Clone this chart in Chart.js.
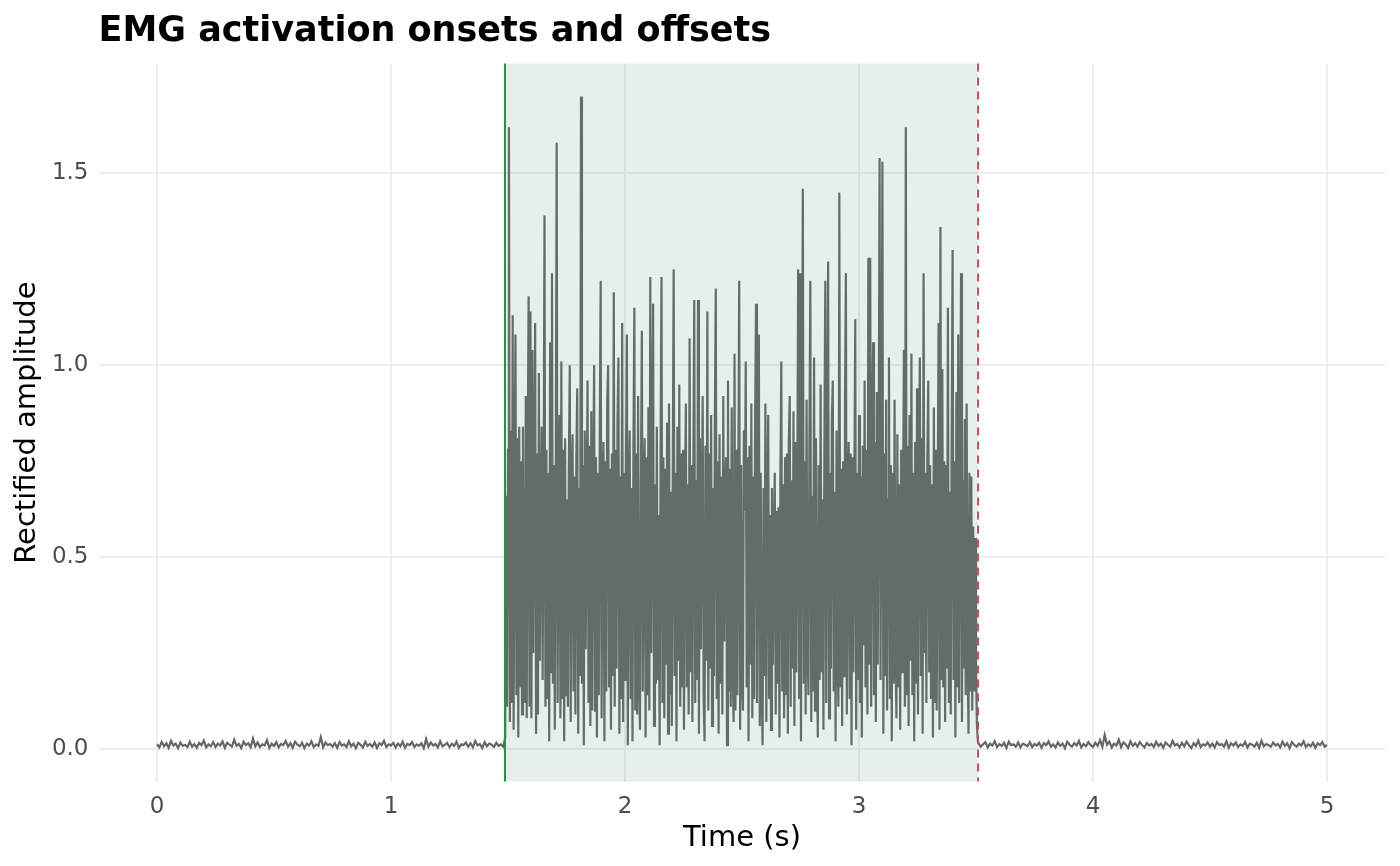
<!DOCTYPE html>
<html>
<head>
<meta charset="utf-8">
<title>EMG activation onsets and offsets</title>
<script src="https://cdn.jsdelivr.net/npm/chart.js@4.4.1/dist/chart.umd.min.js"></script>
<style>
  html, body { margin: 0; padding: 0; background: #ffffff; }
  canvas { display: block; }
</style>
</head>
<body>
<canvas id="emgChart" width="1400" height="866"></canvas>
<script>
// resting signal before the onset, one sample every 10 ms from 0 s
const restBefore = [
  0.012,0.004,0.018,0.007,0.015,0.003,0.021,0.009,0.014,0.002,0.017,0.008,0.011,0.005,0.019,0.006,0.013,0.003,0.016,0.010,0.022,0.004,0.012,0.007,0.018,
  0.005,0.014,0.009,0.020,0.003,0.016,0.011,0.006,0.024,0.008,0.013,0.002,0.019,0.010,0.015,0.004,0.027,0.007,0.017,0.005,0.012,0.009,0.023,0.003,0.014,
  0.008,0.018,0.004,0.013,0.010,0.021,0.006,0.015,0.003,0.019,0.011,0.007,0.016,0.002,0.014,0.009,0.020,0.005,0.012,0.008,0.031,0.004,0.017,0.010,0.013,
  0.006,0.015,0.003,0.018,0.009,0.012,0.005,0.020,0.007,0.014,0.002,0.016,0.011,0.004,0.019,0.008,0.013,0.006,0.017,0.003,0.015,0.010,0.021,0.005,0.012,
  0.009,0.016,0.004,0.014,0.007,0.019,0.003,0.013,0.010,0.018,0.005,0.012,0.008,0.015,0.002,0.026,0.006,0.017,0.009,0.013,0.004,0.020,0.007,0.011,0.016,
  0.005,0.014,0.008,0.019,0.003,0.012,0.010,0.017,0.006,0.015,0.004,0.021,0.009,0.013,0.002,0.018,0.007,0.014,0.011,0.005,0.016,0.008,0.012,0.006
];

// active burst, one sample every 4 ms from 1.488 s (25 samples per 0.1 s row)
const burst = [
  0.03,0.66,0.11,0.78,1.62,0.07,0.83,0.12,1.13,0.05,0.69,1.08,0.14,0.81,0.03,0.84,0.16,0.75,0.09,0.84,0.27,0.12,0.92,0.08,0.76,
  1.18,0.11,1.14,0.08,1.04,0.25,0.72,1.11,0.04,0.77,0.09,0.98,0.23,0.60,0.84,0.18,0.66,1.39,0.11,0.78,0.13,0.72,0.02,1.06,0.20,
  1.24,0.17,0.74,0.05,0.69,1.58,0.12,0.67,0.87,0.08,1.01,0.13,0.78,0.02,0.81,0.14,0.65,0.11,0.73,1.00,0.07,0.69,0.82,0.15,0.71,
  0.09,0.76,0.94,0.04,0.68,0.19,1.70,0.17,0.74,0.01,0.83,0.26,0.62,0.96,0.12,0.79,0.06,0.88,0.10,0.69,1.00,0.10,0.76,0.03,0.72,
  0.14,0.81,1.22,0.08,0.67,0.80,0.02,0.75,0.15,0.91,1.00,0.16,0.73,0.05,0.77,0.19,1.19,0.11,0.78,0.21,0.86,1.02,0.04,0.71,0.13,
  1.11,0.07,0.72,0.18,0.74,1.08,0.01,0.65,0.83,0.13,0.68,0.02,0.79,1.15,0.10,0.77,0.09,0.92,0.21,0.05,0.70,1.09,0.15,0.67,0.81,
  0.03,0.76,0.14,0.89,0.10,1.23,0.25,0.72,1.16,0.06,0.69,0.17,0.84,0.18,0.61,0.01,0.78,1.23,0.12,0.76,0.08,0.73,0.22,0.85,0.04,
  0.90,0.14,0.67,0.06,0.71,1.25,0.19,0.72,0.02,0.84,0.23,0.95,0.11,0.77,0.16,0.78,0.05,0.64,0.90,0.16,0.69,0.09,1.07,0.20,0.74,
  0.07,0.73,1.17,0.12,0.70,0.18,1.17,0.04,0.81,0.26,0.65,0.92,0.13,0.02,0.79,0.23,1.14,0.10,0.77,0.21,0.87,0.06,0.68,0.19,0.86,
  1.20,0.13,0.75,0.04,0.82,0.17,0.71,0.09,0.92,0.28,0.68,0.76,0.01,0.96,0.15,0.73,0.11,0.89,0.24,0.07,1.03,0.10,0.78,0.14,0.67,
  1.22,0.05,0.74,0.19,0.10,0.83,0.62,1.01,0.16,0.76,0.02,0.79,0.22,0.90,0.08,0.71,0.13,0.85,1.16,0.12,0.65,1.08,0.06,0.72,0.17,
  0.01,0.68,0.19,0.90,0.07,0.64,0.87,0.13,0.61,0.05,0.68,0.22,0.55,0.72,0.09,0.62,0.17,0.63,0.03,0.70,1.01,0.15,0.69,0.08,0.76,
  0.14,0.77,0.04,0.80,0.92,0.11,0.70,0.21,0.88,0.06,0.80,0.20,0.63,1.25,0.13,1.24,0.02,0.77,1.46,0.17,0.75,0.09,0.91,0.26,0.14,
  0.78,1.22,0.07,0.66,0.15,1.02,0.10,0.81,0.23,0.03,0.74,0.18,0.95,0.20,0.65,0.05,0.79,1.22,0.12,0.78,1.27,0.08,0.72,0.21,0.86,
  0.96,0.15,0.67,0.02,0.83,0.24,0.11,1.45,0.16,0.73,0.06,0.75,0.19,0.90,1.24,0.09,0.64,0.80,0.13,0.77,0.01,0.76,0.20,0.68,1.12,
  0.05,0.72,0.18,0.87,0.12,0.71,0.03,0.79,0.27,0.96,0.16,0.78,0.09,1.28,0.22,1.28,0.11,0.84,1.06,0.14,0.80,0.07,0.93,0.22,0.75,
  1.54,0.18,0.76,1.53,0.04,0.77,0.19,0.91,0.10,0.65,1.02,0.13,0.74,0.02,0.72,0.17,0.91,0.26,0.08,0.82,0.16,0.69,0.05,0.78,0.20,
  0.63,1.04,0.11,1.62,0.14,0.79,0.06,0.87,0.23,1.03,0.14,0.72,0.02,0.80,0.17,0.94,0.09,0.66,1.02,0.19,0.81,0.04,1.24,0.25,0.72,
  0.12,0.76,0.96,0.20,0.74,0.13,0.69,0.03,0.89,0.12,0.78,0.10,0.62,1.11,0.05,1.36,0.18,0.99,0.16,0.75,0.07,0.74,0.21,1.15,0.12,
  0.67,0.09,0.81,1.30,0.18,0.75,0.03,0.93,0.16,1.08,0.12,0.70,1.24,0.07,0.70,0.21,0.86,0.14,0.90,0.25,0.04,0.72,0.15,0.71,0.10,
  0.58,0.15,0.55,0.21,0.06,0.02
];

// resting signal after the offset, one sample every 10 ms from 3.51 s
const restAfter = [
  0.015,0.006,0.012,0.018,0.004,0.014,0.009,0.020,0.005,0.013,0.008,0.016,0.003,0.019,0.010,0.012,0.006,0.017,0.004,0.014,0.011,0.007,0.018,0.005,0.013,
  0.009,0.016,0.003,0.015,0.010,0.020,0.006,0.012,0.004,0.017,0.008,0.014,0.002,0.019,0.011,0.006,0.015,0.009,0.021,0.004,0.013,0.007,0.018,0.010,0.005,
  0.016,0.008,0.023,0.006,0.036,0.011,0.019,0.004,0.014,0.009,0.024,0.005,0.017,0.012,0.003,0.020,0.008,0.015,0.006,0.018,0.010,0.004,0.016,0.009,0.013,
  0.005,0.019,0.008,0.014,0.003,0.017,0.011,0.006,0.021,0.009,0.013,0.004,0.016,0.007,0.019,0.010,0.002,0.015,0.008,0.022,0.005,0.012,0.009,0.017,0.006,
  0.014,0.004,0.018,0.010,0.013,0.006,0.020,0.003,0.015,0.009,0.017,0.005,0.012,0.008,0.019,0.004,0.014,0.011,0.006,0.016,0.003,0.021,0.007,0.013,0.010,
  0.006,0.017,0.009,0.013,0.004,0.019,0.008,0.015,0.002,0.018,0.011,0.006,0.014,0.009,0.020,0.005,0.012,0.007,0.016,0.003,0.015,0.010,0.018,0.006,0.011
];

const restStep = 0.01;
const burstStep = 0.004;
const burstStart = 1.488;
const restAfterStart = 3.51;

// detected activation window
const onsetTime = 1.487;
const offsetTime = 3.509;

const xTicks = [0, 1, 2, 3, 4, 5];
const yTicks = [0, 0.5, 1, 1.5];

const points = [];
restBefore.forEach((v, i) => points.push({ x: +(i * restStep).toFixed(3), y: v }));
burst.forEach((v, i) => points.push({ x: +(burstStart + i * burstStep).toFixed(3), y: v }));
restAfter.forEach((v, i) => points.push({ x: +(restAfterStart + i * restStep).toFixed(3), y: v }));

Chart.defaults.font.family = "'DejaVu Sans', sans-serif";

// shaded window + onset/offset lines, drawn over the signal like the ggplot layers
const windowPlugin = {
  id: 'activationWindow',
  afterDatasetsDraw(chart) {
    const { ctx, chartArea, scales } = chart;
    const x0 = scales.x.getPixelForValue(onsetTime);
    const x1 = scales.x.getPixelForValue(offsetTime);
    ctx.save();
    ctx.fillStyle = 'rgba(89, 155, 115, 0.15)';
    ctx.fillRect(x0, chartArea.top, x1 - x0, chartArea.bottom - chartArea.top);

    ctx.lineWidth = 2;
    ctx.strokeStyle = '#2e8b48';
    ctx.beginPath();
    ctx.moveTo(x0, chartArea.top);
    ctx.lineTo(x0, chartArea.bottom);
    ctx.stroke();

    ctx.strokeStyle = '#d0455c';
    ctx.setLineDash([8, 6]);
    ctx.beginPath();
    ctx.moveTo(x1, chartArea.top);
    ctx.lineTo(x1, chartArea.bottom);
    ctx.stroke();
    ctx.restore();
  }
};

new Chart(document.getElementById('emgChart'), {
  type: 'line',
  data: {
    datasets: [{
      label: 'Rectified EMG',
      data: points,
      borderColor: '#666666',
      borderWidth: 2.2,
      pointRadius: 0,
      tension: 0,
      fill: false
    }]
  },
  options: {
    responsive: false,
    animation: false,
    devicePixelRatio: 1,
    layout: {
      padding: { left: 0, right: 14.5, top: 0, bottom: 0 }
    },
    plugins: {
      legend: { display: false },
      tooltip: { enabled: false },
      title: {
        display: true,
        text: 'EMG activation onsets and offsets',
        align: 'start',
        fullSize: false,
        color: '#000000',
        font: { size: 35, weight: 'bold' },
        padding: { top: 11, bottom: 10.6 }
      }
    },
    scales: {
      x: {
        type: 'linear',
        min: -0.25,
        max: 5.25,
        afterBuildTicks: (scale) => { scale.ticks = xTicks.map(v => ({ value: v })); },
        afterFit: (scale) => { scale.height = 84.4; },
        grid: { color: '#ebebeb', lineWidth: 1.8, drawTicks: false },
        border: { display: false },
        ticks: {
          color: '#4d4d4d',
          font: { size: 23 },
          padding: 12,
          maxRotation: 0,
          callback: (v) => String(v)
        },
        title: {
          display: true,
          text: 'Time (s)',
          color: '#000000',
          font: { size: 29 },
          padding: { top: 4, bottom: 10 }
        }
      },
      y: {
        type: 'linear',
        min: -0.085,
        max: 1.786,
        afterBuildTicks: (scale) => { scale.ticks = yTicks.map(v => ({ value: v })); },
        afterFit: (scale) => { scale.width = 98.5; },
        grid: { color: '#ebebeb', lineWidth: 1.8, drawTicks: false },
        border: { display: false },
        ticks: {
          color: '#4d4d4d',
          font: { size: 23 },
          padding: 10,
          callback: (v) => Number(v).toFixed(1)
        },
        title: {
          display: true,
          text: 'Rectified amplitude',
          color: '#000000',
          font: { size: 29 },
          padding: { top: 10, bottom: 4 }
        }
      }
    }
  },
  plugins: [windowPlugin]
});
</script>
</body>
</html>
